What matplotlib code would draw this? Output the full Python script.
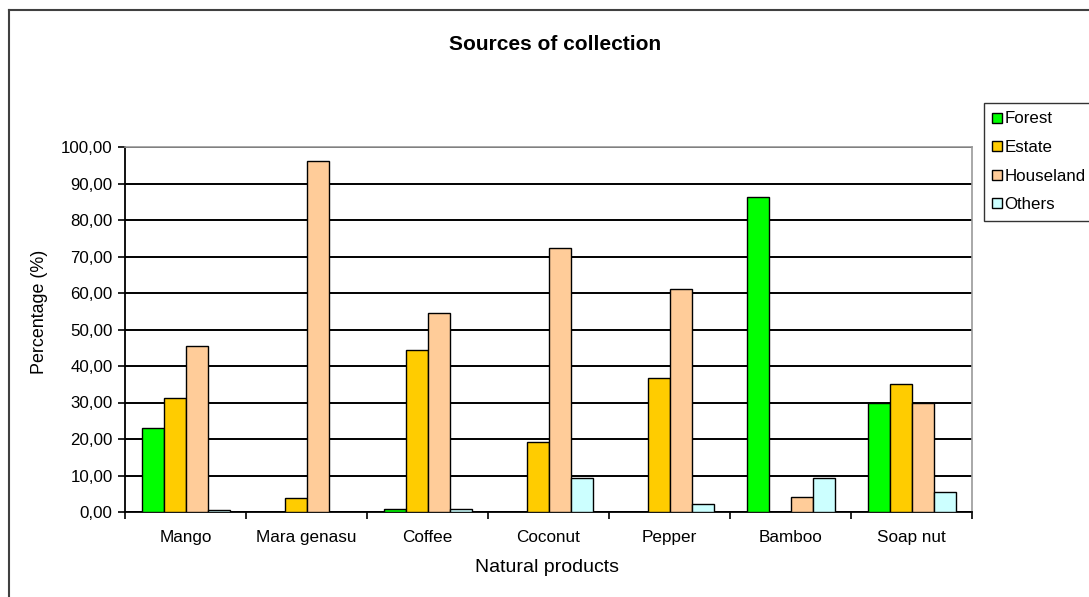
import matplotlib
matplotlib.use("Agg")
import matplotlib.pyplot as plt
import numpy as np
from matplotlib.lines import Line2D
from matplotlib.ticker import FuncFormatter, FixedLocator

plt.rcParams['font.family'] = ['Liberation Sans', 'DejaVu Sans']

categories = ["Mango", "Mara genasu", "Coffee", "Coconut", "Pepper", "Bamboo", "Soap nut"]
series_names = ["Forest", "Estate", "Houseland", "Others"]
forest = [22.9, 0.0, 0.9, 0.0, 0.0, 86.4, 30.0]
estate = [31.2, 3.7, 44.5, 19.1, 36.8, 0.0, 35.1]
houseland = [45.6, 96.3, 54.4, 72.2, 61.0, 4.2, 30.0]
others = [0.5, 0.0, 0.9, 9.2, 2.1, 9.2, 5.5]
colors = ["#00ff00", "#ffcc00", "#ffcc99", "#ccffff"]

W, H = 1089, 597
fig = plt.figure(figsize=(W / 100, H / 100), dpi=100)
fig.patch.set_facecolor("white")

# outer chart frame (cut off at right and bottom)
fig.add_artist(Line2D([9 / W, 9 / W], [1 - 10 / H, 0], color="#404040", lw=1.5, transform=fig.transFigure))
fig.add_artist(Line2D([9 / W, 1], [1 - 10 / H, 1 - 10 / H], color="#404040", lw=1.5, transform=fig.transFigure))

left, right, top, bottom = 125, 972, 147, 512
ax = fig.add_axes([left / W, 1 - bottom / H, (right - left) / W, (bottom - top) / H])

x = np.arange(len(categories))
w = 1 / 5.5
data = [forest, estate, houseland, others]
for k, (vals, c, name) in enumerate(zip(data, colors, series_names)):
    ax.bar(x + (k - 1.5) * w, vals, width=w, color=c, edgecolor="black", linewidth=1.0, label=name, zorder=3)

ax.set_xlim(-0.5, len(categories) - 0.5)
ax.set_ylim(0, 100)
ax.set_yticks(np.arange(0, 101, 10))
ax.yaxis.set_major_formatter(FuncFormatter(lambda v, p: f"{v:.2f}".replace(".", ",")))
ax.yaxis.grid(True, color="black", linewidth=1.4, zorder=0)
ax.set_axisbelow(True)

ax.set_xticks(x)
ax.set_xticklabels(categories)
ax.xaxis.set_minor_locator(FixedLocator(np.arange(-0.5, len(categories), 1.0)))
ax.tick_params(axis="x", which="major", length=0, pad=13, labelsize=12.3)
ax.tick_params(axis="x", which="minor", length=5, width=1.2, direction="out", color="black")
ax.tick_params(axis="y", length=5, width=1.2, direction="out", labelsize=12.2, pad=4)

for s in ["left", "bottom"]:
    ax.spines[s].set_color("black")
    ax.spines[s].set_linewidth(1.3)
for s in ["top", "right"]:
    ax.spines[s].set_color("#999999")
    ax.spines[s].set_linewidth(1.2)

fig.text(555 / W, 1 - 45 / H, "Sources of collection", ha="center", va="center", fontsize=15, fontweight="bold")
fig.text(547 / W, 1 - 567 / H, "Natural products", ha="center", va="center", fontsize=14)
fig.text(39 / W, 1 - 312 / H, "Percentage (%)", ha="center", va="center", rotation=90, fontsize=12.9)

handles = [Line2D([0], [0], marker="s", linestyle="none", markersize=7.5, markerfacecolor=c,
                  markeredgecolor="black", markeredgewidth=1.0) for c in colors]
leg = fig.legend(handles, series_names, loc="upper left", bbox_to_anchor=(984 / W, 1 - 103 / H),
                 bbox_transform=fig.transFigure, frameon=True, fancybox=False, fontsize=12.2,
                 handlelength=0.5, handletextpad=0.22, borderpad=0.5, labelspacing=0.8, borderaxespad=0)
leg.get_frame().set_edgecolor("black")
leg.get_frame().set_linewidth(1.0)

fig.savefig("out.png", dpi=100)
